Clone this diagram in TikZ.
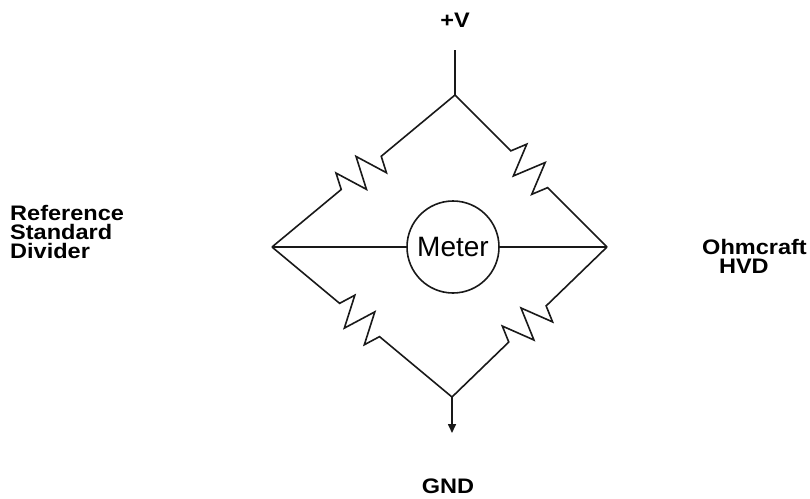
\documentclass[tikz,border=0pt]{standalone}
\usepackage{fontspec}
\setmainfont{Liberation Sans}
\usetikzlibrary{positioning,arrows.meta,decorations.pathmorphing}

\tikzset{
  wire/.style={line width=1.6pt, draw=black!90},
  resistor/.style={wire, decorate, decoration={zigzag, segment length=26pt,
    amplitude=16pt, pre length=#1, post length=#1}},
  resistor/.default=90pt,
  label/.style={font=\bfseries\fontsize{21}{19}\selectfont, align=left,
    inner sep=0pt, transform shape, xscale=1.12},
  meter/.style={wire, circle, minimum size=92pt, inner sep=0pt,
    font=\fontsize{28}{28}\selectfont, fill=white}
}

\begin{document}
\begin{tikzpicture}[x=1pt, y=-1pt]
      \useasboundingbox (0,0) rectangle (810,498);
      % Define nodes
      \coordinate (top)   at (455,95);
      \coordinate (left)  at (272,247);
      \coordinate (right) at (607,247);
      \coordinate (bot)   at (452,397);
      \coordinate[above=45pt of top] (vin);
      \coordinate[below=36pt of bot] (gnd);
      \node[meter] (m) at (453,247) {Meter};
      \node[label, anchor=south] (vlabel) at (455,28) {+V};
      \node[label, anchor=south] (gndlabel) at (448,494) {GND};
      \node[label, anchor=west] (reflabel) at (10,232) {Reference\\Standard\\Divider};
      \node[label, anchor=west] (hvdlabel) at (702,256) {Ohmcraft\\\hspace{15pt}HVD};
      % Connect nodes
      \draw[wire] (vin) -- (top);
      \draw[resistor] (left) -- (top);
      \draw[resistor=79pt] (top) -- (right);
      \draw[resistor=88pt] (left) -- (bot);
      \draw[resistor=79pt] (bot) -- (right);
      \draw[wire] (left) -- (m);
      \draw[wire] (m) -- (right);
      \draw[wire, -{Triangle[length=9pt, width=8pt]}] (bot) -- (gnd);
    \end{tikzpicture}
\end{document}
